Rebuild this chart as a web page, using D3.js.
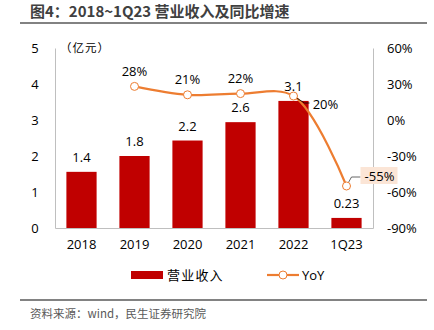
<!DOCTYPE html>
<html>
<head>
<meta charset="utf-8">
<script src="https://cdn.jsdelivr.net/npm/d3@7"></script>
<style>
    body { margin: 0; background: #fff; }
    svg { display: block; font-family: "Noto Sans CJK SC", "Open Sans", sans-serif; }
</style>
</head>
<body>
<script>
(function () {
    'use strict';

    // chart data
    var categories = ['2018', '2019', '2020', '2021', '2022', '1Q23'];
    var revenue = [1.56, 2.0, 2.43, 2.94, 3.53, 0.28];      // bar heights as drawn
    var revenueLabels = ['1.4', '1.8', '2.2', '2.6', '3.1', '0.23'];
    var yoy = [null, 28, 21, 22, 20, -55];
    var yoyLabels = [null, '28%', '21%', '22%', '20%', '-55%'];
    var leftTicks = [0, 1, 2, 3, 4, 5];
    var rightTicks = [-90, -60, -30, 0, 30, 60];

    var W = 434, H = 330,
        barColor = '#C00000',
        lineColor = '#ED7D31',
        axisColor = '#BFBFBF';

    var svg = d3.select('body').append('svg')
        .attr('width', W).attr('height', H);

    // title + rules
    svg.append('text')
        .attr('x', 30).attr('y', 17)
        .attr('font-size', 15).attr('font-weight', 'bold')
        .attr('fill', '#404040')
        .text('图4：2018~1Q23 营业收入及同比增速');
    svg.append('line')
        .attr('x1', 20).attr('x2', 427).attr('y1', 23).attr('y2', 23)
        .attr('stroke', '#595959').attr('stroke-width', 1.5);
    svg.append('line')
        .attr('x1', 20).attr('x2', 427).attr('y1', 300).attr('y2', 300)
        .attr('stroke', '#595959').attr('stroke-width', 1.5);
    svg.append('text')
        .attr('x', 30).attr('y', 318)
        .attr('font-size', 11.5).attr('fill', '#595959')
        .text('资料来源：wind，民生证券研究院');

    // scales
    var x = d3.scaleBand().domain(categories).range([55, 373]).paddingInner(0.43).paddingOuter(0.215);
    var yL = d3.scaleLinear().domain([0, 5]).range([228, 48]);
    var yR = d3.scaleLinear().domain([-90, 60]).range([228, 48]);

    // axes
    var gL = svg.append('g').attr('transform', 'translate(55,0)')
        .call(d3.axisLeft(yL).tickValues(leftTicks).tickSize(0).tickPadding(16)
            .tickFormat(d3.format('d')));
    var gR = svg.append('g').attr('transform', 'translate(373,0)')
        .call(d3.axisRight(yR).tickValues(rightTicks).tickSize(0).tickPadding(14)
            .tickFormat(function (d) { return d + '%'; }));
    var gX = svg.append('g').attr('transform', 'translate(0,228)')
        .call(d3.axisBottom(x).tickSize(0).tickPadding(12));

    [gL, gR, gX].forEach(function (g) {
        g.select('.domain').attr('stroke', axisColor);
        g.selectAll('text').attr('font-size', 13).attr('fill', '#000')
            .attr('font-family', '"Open Sans", sans-serif');
    });
    gL.selectAll('text').attr('text-anchor', 'middle').attr('dx', '-4');

    svg.append('text')
        .attr('x', 60).attr('y', 52)
        .attr('font-size', 11.5).attr('fill', '#000')
        .attr('letter-spacing', 1)
        .text('（亿元）');

    // bars
    svg.append('g').selectAll('rect')
        .data(revenue)
        .join('rect')
        .attr('x', function (d, i) { return x(categories[i]); })
        .attr('width', x.bandwidth())
        .attr('y', function (d) { return yL(d); })
        .attr('height', function (d) { return yL(0) - yL(d); })
        .attr('fill', barColor);

    svg.append('g').selectAll('text')
        .data(revenue)
        .join('text')
        .attr('x', function (d, i) { return x(categories[i]) + x.bandwidth() / 2; })
        .attr('y', function (d) { return yL(d) - 10; })
        .attr('text-anchor', 'middle')
        .attr('font-size', 13)
        .attr('font-family', '"Open Sans", sans-serif')
        .text(function (d, i) { return revenueLabels[i]; });

    // yoy line
    var pts = yoy.map(function (v, i) {
        return v === null ? null : [x(categories[i]) + x.bandwidth() / 2, yR(v), i];
    }).filter(Boolean);

    var line = d3.line().curve(d3.curveCatmullRom.alpha(0.5));
    svg.append('path')
        .attr('d', line(pts.map(function (p) { return [p[0], p[1]]; })))
        .attr('fill', 'none')
        .attr('stroke', lineColor)
        .attr('stroke-width', 2.2);

    // leader lines
    var p20 = pts[3], p55 = pts[4];
    svg.append('path')
        .attr('d', 'M' + p20[0] + ',' + p20[1] + 'L' + (p20[0] + 11) + ',' + (p20[1] + 7) + 'h5')
        .attr('fill', 'none').attr('stroke', '#000').attr('stroke-width', 0.8);
    svg.append('path')
        .attr('d', 'M' + p55[0] + ',' + p55[1] + 'L' + (p55[0] + 5) + ',' + (p55[1] - 9) + 'h9')
        .attr('fill', 'none').attr('stroke', '#404040').attr('stroke-width', 0.8);

    svg.append('g').selectAll('circle')
        .data(pts)
        .join('circle')
        .attr('cx', function (p) { return p[0]; })
        .attr('cy', function (p) { return p[1]; })
        .attr('r', 4)
        .attr('fill', '#fff')
        .attr('stroke', lineColor)
        .attr('stroke-width', 1);

    // yoy labels
    var lblOff = {1: [0, -10], 2: [0, -11], 3: [0, -11], 4: [32, 13], 5: [33, -5]};
    svg.append('rect')
        .attr('x', p55[0] + 14).attr('y', p55[1] - 19)
        .attr('width', 37).attr('height', 17)
        .attr('fill', '#FBE5D6');
    svg.append('g').selectAll('text')
        .data(pts)
        .join('text')
        .attr('x', function (p) { return p[0] + lblOff[p[2]][0]; })
        .attr('y', function (p) { return p[1] + lblOff[p[2]][1]; })
        .attr('text-anchor', 'middle')
        .attr('font-size', 13)
        .attr('font-family', '"Open Sans", sans-serif')
        .text(function (p) { return yoyLabels[p[2]]; });

    // legend
    var lg = svg.append('g');
    lg.append('rect').attr('x', 131).attr('y', 271).attr('width', 32).attr('height', 8).attr('fill', barColor);
    lg.append('text').attr('x', 167).attr('y', 280).attr('font-size', 13)
        .attr('letter-spacing', 1.2).text('营业收入');
    lg.append('line').attr('x1', 267).attr('x2', 299).attr('y1', 275).attr('y2', 275)
        .attr('stroke', lineColor).attr('stroke-width', 2.2);
    lg.append('circle').attr('cx', 283).attr('cy', 275).attr('r', 4)
        .attr('fill', '#fff').attr('stroke', lineColor);
    lg.append('text').attr('x', 302).attr('y', 280).attr('font-size', 13)
        .attr('font-family', '"Open Sans", sans-serif').text('YoY');
}());
</script>
</body>
</html>
